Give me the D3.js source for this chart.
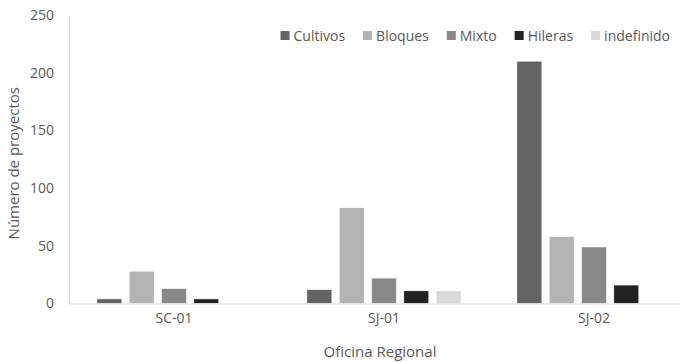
<!DOCTYPE html>
<html>
<head>
<meta charset="utf-8">
<script src="https://cdn.jsdelivr.net/npm/d3@7"></script>
<style>
  body { margin: 0; background: #fff; }
  svg { display: block; }
  text { font-family: "Open Sans", sans-serif; fill: #595959; }
</style>
</head>
<body>
<svg id="chart" width="680" height="362"></svg>
<script>
const categories = ["SC-01", "SJ-01", "SJ-02"];
const seriesNames = ["Cultivos", "Bloques", "Mixto", "Hileras", "indefinido"];
const cultivos = [4, 12, 210];
const bloques = [28, 83, 58];
const mixto = [13, 22, 49];
const hileras = [4, 11, 16];
const indefinido = [0, 11, 0];
const yTicks = [0, 50, 100, 150, 200, 250];
const colors = ["#636363", "#b3b3b3", "#888888", "#222222", "#d9d9d9"];

(function () {
const seriesValues = [cultivos, bloques, mixto, hileras, indefinido];
const data = categories.map((c, i) => ({
  cat: c,
  vals: seriesNames.map((s, j) => ({ key: s, value: seriesValues[j][i], color: colors[j] }))
}));

const svg = d3.select("#chart");
const mLeft = 69, mRight = 699, mTop = 15, mBottom = 303.5;

const x0 = d3.scaleBand().domain(categories).range([mLeft, mRight]).padding(0);
const x1 = d3.scaleBand().domain(seriesNames).range([0, x0.bandwidth()])
  .paddingInner(0.226).paddingOuter(0.863);
const y = d3.scaleLinear().domain([0, 250]).range([mBottom, mTop]);

// bars
const g = svg.append("g");
g.selectAll("g.grp").data(data).join("g")
  .attr("class", "grp")
  .attr("transform", d => `translate(${x0(d.cat)},0)`)
  .selectAll("rect").data(d => d.vals.filter(v => v.value > 0)).join("rect")
  .attr("x", d => x1(d.key))
  .attr("width", x1.bandwidth())
  .attr("y", d => y(d.value))
  .attr("height", d => y(0) - y(d.value))
  .attr("fill", d => d.color)
  .attr("stroke", "#ffffff")
  .attr("stroke-width", 0.6);

// y axis
const yAxis = svg.append("g").attr("transform", `translate(${mLeft},0)`)
  .call(d3.axisLeft(y).tickValues(yTicks).tickSize(0).tickPadding(15));
yAxis.select(".domain").attr("stroke", "#d9d9d9").attr("stroke-width", 1.2);
yAxis.selectAll("text").style("font-size", "14px").attr("fill", "#595959")
  .style("font-family", "'Open Sans', sans-serif");

// x axis
const xAxis = svg.append("g").attr("transform", `translate(0,${mBottom})`)
  .call(d3.axisBottom(x0).tickSize(0).tickPadding(10));
xAxis.select(".domain").attr("stroke", "#d9d9d9").attr("stroke-width", 1.2);
xAxis.selectAll("text").style("font-size", "14px").attr("fill", "#595959")
  .style("font-family", "'Open Sans', sans-serif");

// axis titles
svg.append("text")
  .attr("transform", `translate(19,${(mTop + mBottom) / 2 + 4}) rotate(-90)`)
  .attr("text-anchor", "middle")
  .style("font-size", "15px")
  .text("Número de proyectos");

svg.append("text")
  .attr("x", 380).attr("y", 357)
  .attr("text-anchor", "middle")
  .style("font-size", "15px")
  .text("Oficina Regional");

// legend
const legend = svg.append("g");
let lx = 0;
const gap = 18;
seriesNames.forEach((s, i) => {
  const it = legend.append("g");
  it.append("rect").attr("x", 0).attr("y", -4.5).attr("width", 9).attr("height", 9).attr("fill", colors[i]);
  const t = it.append("text").attr("x", 13).attr("y", 5).style("font-size", "14px").text(s);
  const w = 13 + t.node().getComputedTextLength();
  it.attr("transform", `translate(${lx},0)`);
  lx += w + gap;
});
const totalW = lx - gap;
legend.attr("transform", `translate(${670 - totalW},35.5)`);
})();
</script>
</body>
</html>
